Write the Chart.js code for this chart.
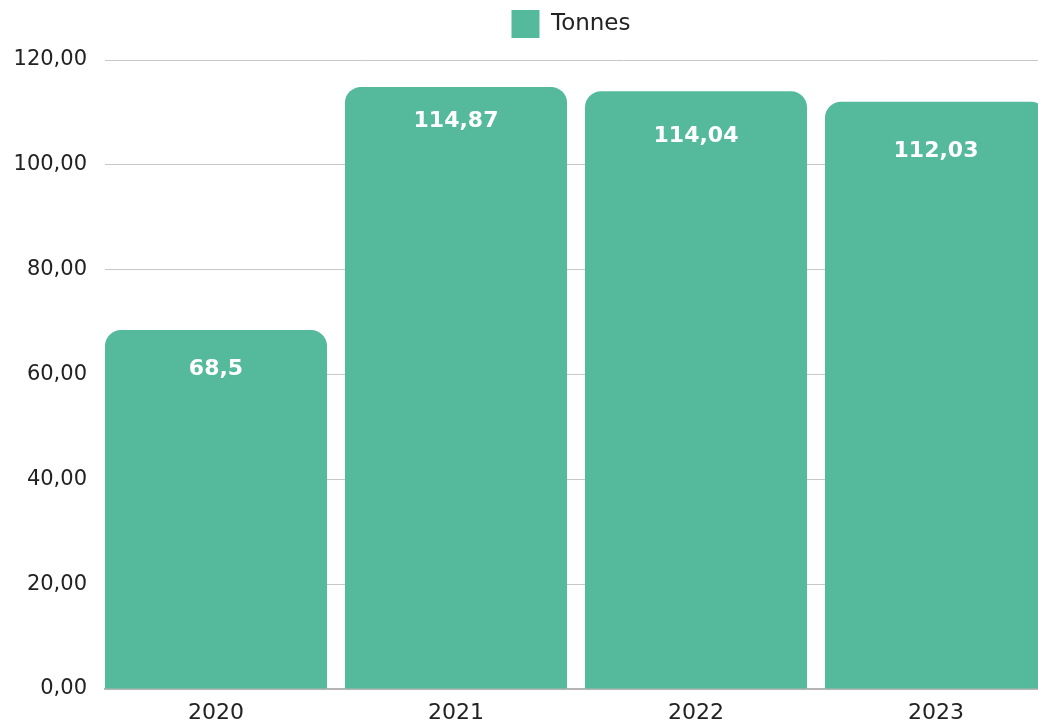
<!DOCTYPE html>
<html lang="fr">

<head>
  <meta charset="UTF-8" />
  <title>Tonnes</title>
  <script src="https://cdn.jsdelivr.net/npm/chart.js"></script>
  <style>
    html, body { margin: 0; padding: 0; overflow: hidden; background: #fff; }
  </style>
</head>

<body>
  <canvas id="tonnesChart" width="1142" height="723"></canvas>

  <script>
    const years = [2020, 2021, 2022, 2023];
    const tonnes = [68.5, 114.87, 114.04, 112.03];
    const yTicks = [0, 20, 40, 60, 80, 100, 120];

    const barColor = "#55BA9C";
    const fontFamily = "'DejaVu Sans', sans-serif";
    // how far below each bar top its label sits (px)
    const labelDrop = [39, 34, 45, 50];

    // comma as decimal separator
    const frNum = v => String(v).replace(".", ",");

    // white value labels inside the top of each bar
    const valueLabels = {
      id: "valueLabels",
      afterDatasetsDraw(chart) {
        const ctx = chart.ctx;
        const meta = chart.getDatasetMeta(0);
        ctx.save();
        ctx.fillStyle = "#fff";
        ctx.font = "bold 22px " + fontFamily;
        ctx.textAlign = "center";
        ctx.textBaseline = "middle";
        meta.data.forEach((bar, i) => {
          ctx.fillText(frNum(tonnes[i]), bar.x, bar.y + labelDrop[i]);
        });
        ctx.restore();
      }
    };

    // legend gets a fixed height so the plot starts at the right spot
    const legendHeight = {
      id: "legendHeight",
      afterInit(chart) {
        const lg = chart.legend;
        const fit = lg.fit;
        lg.fit = function () {
          fit.call(this);
          this.height = 60;
        };
      }
    };

    // first bar sits flush with the left edge of the plot
    const xMin = years[0] - 111 / 240;
    const xMax = xMin + 1037 / 240;

    new Chart(document.getElementById("tonnesChart"), {
      type: "bar",
      data: {
        datasets: [{
          label: "Tonnes",
          data: years.map((y, i) => ({ x: y, y: tonnes[i] })),
          backgroundColor: barColor,
          borderRadius: 16,
          borderSkipped: "start",
          barPercentage: 0.925,
          categoryPercentage: 1
        }]
      },
      options: {
        responsive: false,
        animation: false,
        layout: { padding: 0 },
        plugins: {
          legend: {
            position: "top",
            labels: {
              boxWidth: 28,
              boxHeight: 28,
              padding: 10,
              color: "#222",
              font: { family: fontFamily, size: 23 }
            }
          },
          tooltip: { enabled: false }
        },
        scales: {
          x: {
            type: "linear",
            offset: false,
            min: xMin,
            max: xMax,
            afterFit(scale) { scale.height = 34; },
            grid: { display: false, offset: false },
            border: { display: true, color: "#b4b4b4", width: 2 },
            ticks: {
              stepSize: 1,
              includeBounds: false,
              padding: 3,
              color: "#222",
              font: { family: fontFamily, size: 22 },
              callback: v => years.includes(v) ? String(v) : null
            }
          },
          y: {
            min: yTicks[0],
            max: yTicks[yTicks.length - 1],
            afterFit(scale) { scale.width = 105; },
            afterBuildTicks(scale) {
              scale.ticks = yTicks.map(v => ({ value: v }));
            },
            grid: { color: "#c8c8c8", lineWidth: 1, drawTicks: false },
            border: { display: false },
            ticks: {
              padding: 18,
              color: "#222",
              font: { family: fontFamily, size: 21 },
              callback: v => v.toFixed(2).replace(".", ",")
            }
          }
        }
      },
      plugins: [valueLabels, legendHeight]
    });
  </script>
</body>

</html>
